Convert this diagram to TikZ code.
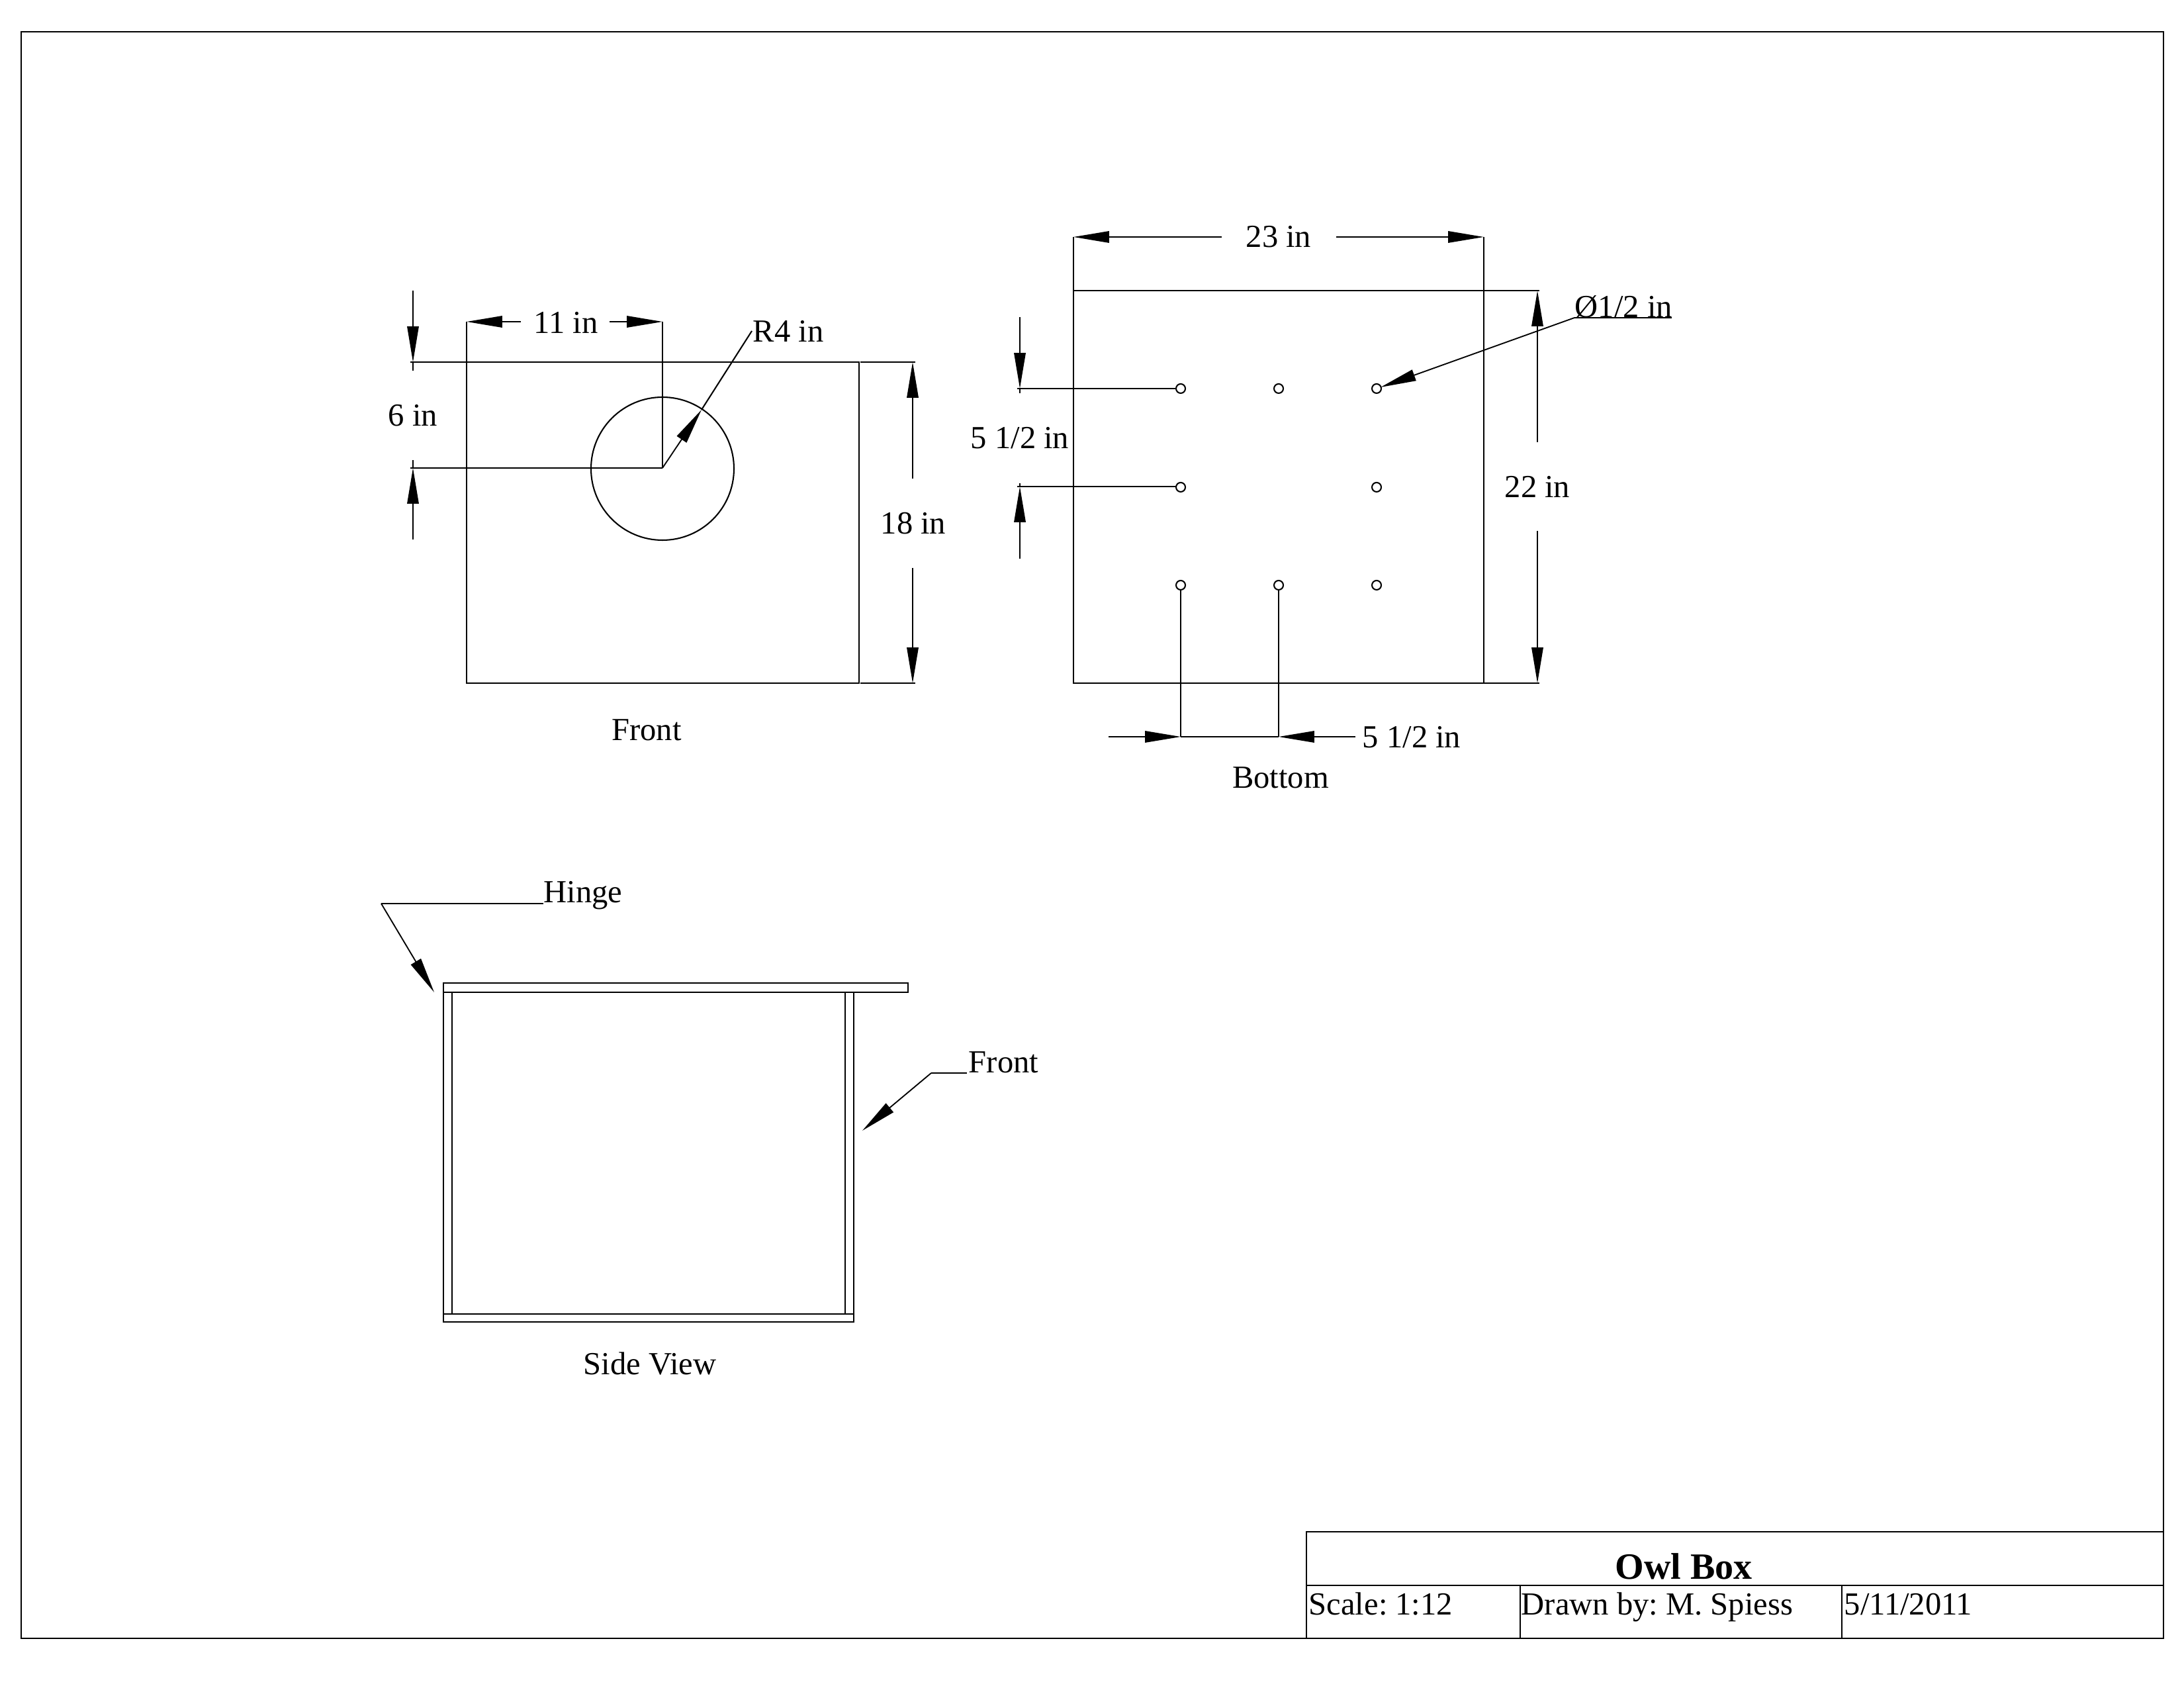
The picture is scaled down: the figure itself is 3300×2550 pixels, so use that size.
\documentclass[tikz,border=0pt]{standalone}
\usepackage{fontspec}
\setmainfont{Liberation Serif}
\usetikzlibrary{arrows.meta}
\tikzset{
  part/.style={line width=0.5pt},
  frameline/.style={line width=0.55pt},
  dimarrow/.style={line width=0.45pt, -{Triangle[length=13pt,width=4.2pt]}},
  lbl/.style={anchor=base, inner sep=0pt, font=\fontsize{11.7}{14}\selectfont\frenchspacing},
  lblleft/.style={lbl, anchor=base west},
}
\begin{document}
\begin{tikzpicture}[x=0.0846667mm, y=-0.0846667mm]
  \useasboundingbox (0, 0) rectangle (3300, 2550);
  % sheet and title block
  \draw [frameline] (32, 48) rectangle (3269, 2475);
  \draw [frameline] (1974, 2475) -- (1974, 2314) -- (3269, 2314);
  \draw [part] (1974, 2395) -- (3269, 2395);
  \draw [part] (2297, 2395) -- (2297, 2475);
  \draw [part] (2783, 2395) -- (2783, 2475);
  \node [lbl, font=\fontsize{13.5}{16}\selectfont\bfseries] (title) at (2544, 2385) {Owl Box};
  \node [lblleft] (scale) at (1977, 2439) {Scale: 1:12};
  \node [lblleft] (drawnby) at (2298, 2439) {Drawn by: M. Spiess};
  \node [lblleft] (date) at (2786, 2439) {5/11/2011};
  % front
  \draw [part] (705, 547) rectangle (1298, 1032);
  \draw [part] (1001, 708) circle (108);
  \draw [part] (620, 547) -- (705, 547);
  \draw [part] (620, 707) -- (1001, 707);
  \draw [part] (705, 486) -- (705, 547);
  \draw [part] (1001, 486) -- (1001, 707);
  \draw [part] (1300, 547) -- (1383, 547);
  \draw [part] (1300, 1032) -- (1383, 1032);
  \draw [dimarrow] (624, 439) -- (624, 547);
  \draw [part] (624, 547) -- (624, 560);
  \draw [dimarrow] (624, 815) -- (624, 707);
  \draw [part] (624, 707) -- (624, 695);
  \node [lbl] (sixin) at (624, 644) {6 in};
  \draw [dimarrow] (787, 486) -- (705, 486);
  \draw [dimarrow] (921, 486) -- (1001, 486);
  \node [lbl] (elevenin) at (855, 504) {11 in};
  \draw [dimarrow] (1379, 723) -- (1379, 547);
  \draw [dimarrow] (1379, 858) -- (1379, 1032);
  \node [lbl] (eighteenin) at (1380, 807) {18 in};
  \node [lblleft] (radius) at (1137, 517) {R4 in};
  \draw [part] (1136, 500) -- (1060, 619);
  \draw [dimarrow] (1001, 707) -- (1060, 619);
  \node [lbl] (front) at (977, 1119) {Front};
  % bottom
  \draw [part] (1622, 439) rectangle (2242, 1032);
  \foreach \hx/\hy in {1784/587, 1932/587, 2080/587, 1784/736, 2080/736, 1784/884, 1932/884, 2080/884}
    \draw [part] (\hx, \hy) circle (7);
  \draw [part] (1622, 358) -- (1622, 439);
  \draw [part] (2242, 358) -- (2242, 439);
  \draw [dimarrow] (1846, 358) -- (1622, 358);
  \draw [dimarrow] (2019, 358) -- (2242, 358);
  \node [lbl] (twentythree) at (1932, 374) {23 in};
  \draw [part] (2242, 439) -- (2326, 439);
  \draw [part] (2242, 1032) -- (2326, 1032);
  \draw [dimarrow] (2323, 668) -- (2323, 439);
  \draw [dimarrow] (2323, 802) -- (2323, 1032);
  \node [lbl] (twentytwo) at (2323, 752) {22 in};
  \draw [part] (1537, 587) -- (1777, 587);
  \draw [part] (1537, 735) -- (1777, 735);
  \draw [dimarrow] (1541, 479) -- (1541, 587);
  \draw [part] (1541, 587) -- (1541, 594);
  \draw [dimarrow] (1541, 844) -- (1541, 735);
  \draw [part] (1541, 735) -- (1541, 730);
  \node [lbl] (holesv) at (1541, 678) {5 1/2 in};
  \draw [part] (1784, 891) -- (1784, 1113);
  \draw [part] (1932, 891) -- (1932, 1113);
  \draw [part] (1784, 1113) -- (1932, 1113);
  \draw [dimarrow] (1675, 1113) -- (1784, 1113);
  \draw [dimarrow] (2048, 1113) -- (1932, 1113);
  \node [lblleft] (holesh) at (2058, 1130) {5 1/2 in};
  \node [lblleft] (hole) at (2379, 480) {Ø1/2 in};
  \draw [part] (2526, 480) -- (2379, 480);
  \draw [dimarrow] (2379, 480) -- (2086, 585);
  \node [lbl] (bottom) at (1935, 1191) {Bottom};
  % side view
  \draw [part] (670, 1485) rectangle (1372, 1499);
  \draw [part] (670, 1499) -- (670, 1985);
  \draw [part] (683, 1499) -- (683, 1985);
  \draw [part] (1277, 1499) -- (1277, 1985);
  \draw [part] (1290, 1499) -- (1290, 1985);
  \draw [part] (670, 1985) rectangle (1290, 1997);
  \node [lblleft] (hinge) at (821, 1364) {Hinge};
  \draw [part] (821, 1365) -- (576, 1365);
  \draw [dimarrow] (576, 1365) -- (656, 1499);
  \node [lblleft] (frontnote) at (1463, 1621) {Front};
  \draw [part] (1461, 1621) -- (1407, 1621);
  \draw [dimarrow] (1407, 1621) -- (1303, 1708);
  \node [lbl] (sideview) at (982, 2076) {Side View};
\end{tikzpicture}
\end{document}
